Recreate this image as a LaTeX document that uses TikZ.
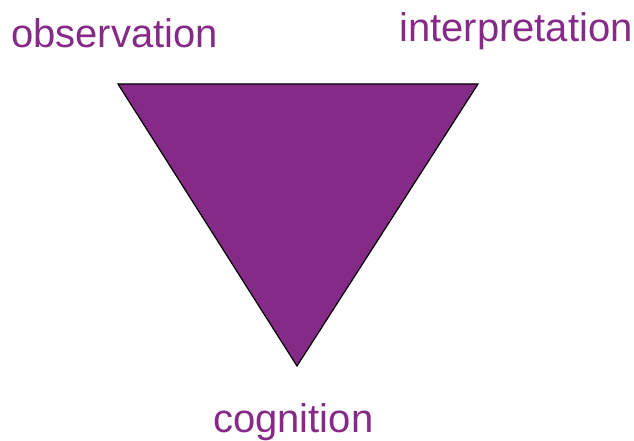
\documentclass[tikz,border=0pt]{standalone}
\usepackage{fontspec}
\setmainfont{Liberation Sans}
\definecolor{plum}{RGB}{134,42,136}

\begin{document}
\begin{tikzpicture}[x=1pt, y=-1pt,
        label/.style = {text=plum, inner sep=0pt, anchor=base west, font=\fontsize{40}{40}\selectfont},
        wedge/.style = {fill=plum, draw=black, line width=1.2pt, line join=miter}]
            \useasboundingbox (0,0) rectangle (634,441);
            \coordinate (obs) at (118,84);
            \coordinate (int) at (478,84);
            \coordinate (cog) at (297,366);

            \fill[white] (0,0) rectangle (634,441);
            \draw[wedge] (obs) -- (int) -- (cog) -- cycle;

            \node[label] (observation) at (11,48) {observation};
            \node[label] (interpretation) at (399,42) {interpretation};
            \node[label] (cognition) at (213,432) {cognition};
        \end{tikzpicture}
\end{document}
